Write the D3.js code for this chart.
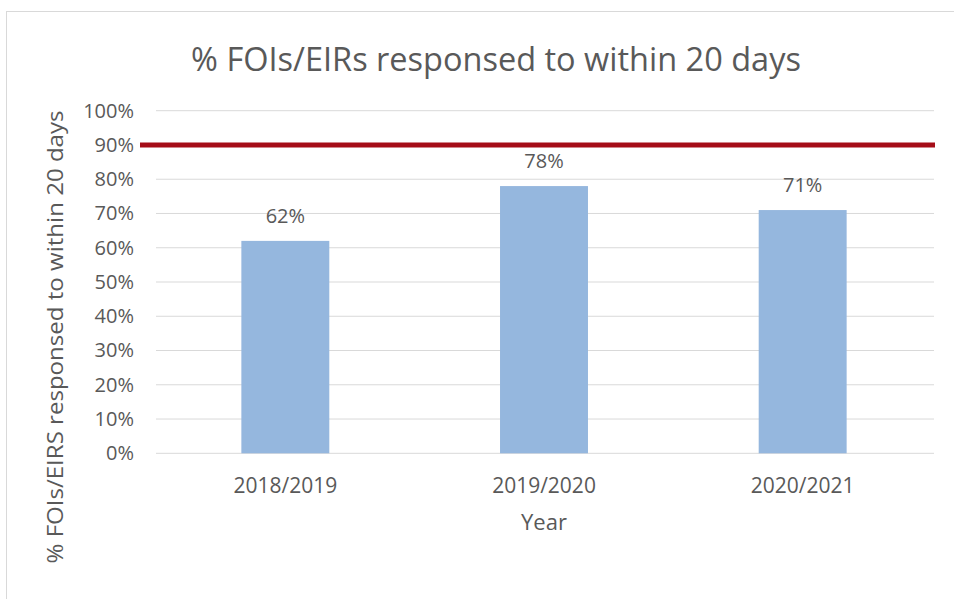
<!DOCTYPE html>
<html>
<head>
<meta charset="utf-8">
<script src="https://cdn.jsdelivr.net/npm/d3@7"></script>
<style>
  html, body { margin: 0; padding: 0; background: #fff; }
  svg { display: block; }
  text { font-family: "Open Sans", "DejaVu Sans", sans-serif; fill: #595959; }
</style>
</head>
<body>
<svg id="chart" width="954" height="599"></svg>
<script>
const categories = ["2018/2019", "2019/2020", "2020/2021"];
const values = [0.62, 0.78, 0.71];
const valueLabels = ["62%", "78%", "71%"];
const target = 0.90;
const yTicks = [0, 0.1, 0.2, 0.3, 0.4, 0.5, 0.6, 0.7, 0.8, 0.9, 1.0];
const titleText = "% FOIs/EIRs responsed to within 20 days";
const yTitle = "% FOIs/EIRS responsed to within 20 days";
const xTitle = "Year";

const svg = d3.select("#chart");
const W = 954, H = 599;
const plot = { left: 156, right: 932, top: 110.7, bottom: 453.3 };

// card border
svg.append("rect").attr("x", 6.5).attr("y", 11.5).attr("width", W + 10).attr("height", H + 10)
  .attr("fill", "#fff").attr("stroke", "#d9d9d9").attr("stroke-width", 1);

const x = d3.scaleBand().domain(categories).range([plot.left, plot.right])
  .paddingInner(0.66).paddingOuter(0.33);
const y = d3.scaleLinear().domain([0, 1]).range([plot.bottom, plot.top]);

// gridlines
svg.append("g").selectAll("line").data(yTicks).join("line")
  .attr("x1", plot.left).attr("x2", plot.right + 2)
  .attr("y1", d => y(d)).attr("y2", d => y(d))
  .attr("stroke", "#d9d9d9").attr("stroke-width", 1);

// y axis tick labels
const yAxis = d3.axisLeft(y).tickValues(yTicks).tickFormat(d3.format(".0%")).tickSize(0).tickPadding(0);
const gy = svg.append("g").attr("transform", `translate(134,0)`).call(yAxis);
gy.select(".domain").remove();
gy.selectAll("text").attr("font-size", 20).attr("fill", "#595959")
  .style("font-family", '"Open Sans", sans-serif');

// bars
svg.append("g").selectAll("rect").data(values).join("rect")
  .attr("x", (d, i) => x(categories[i]))
  .attr("width", x.bandwidth())
  .attr("y", d => y(d))
  .attr("height", d => y(0) - y(d))
  .attr("fill", "#95b7de");

// data labels
svg.append("g").selectAll("text").data(values).join("text")
  .attr("x", (d, i) => x(categories[i]) + x.bandwidth() / 2)
  .attr("y", d => y(d) - 18)
  .attr("text-anchor", "middle")
  .attr("font-size", 20)
  .text((d, i) => valueLabels[i]);

// x axis labels
const xAxis = d3.axisBottom(x).tickSize(0).tickPadding(0);
const gx = svg.append("g").attr("transform", `translate(0,492.5)`).call(xAxis);
gx.select(".domain").remove();
gx.selectAll("text").attr("font-size", 21).attr("fill", "#595959")
  .attr("y", 0).attr("dy", 0)
  .style("font-family", '"Open Sans", sans-serif');

// target line
svg.append("line")
  .attr("x1", plot.left - 16).attr("x2", plot.right + 3)
  .attr("y1", y(target)).attr("y2", y(target))
  .attr("stroke", "#a50d18").attr("stroke-width", 5);

// title
svg.append("text").attr("x", 496).attr("y", 71).attr("text-anchor", "middle")
  .attr("font-size", 32.5).text(titleText);

// axis titles
svg.append("text").attr("x", 544).attr("y", 530).attr("text-anchor", "middle")
  .attr("font-size", 22).text(xTitle);
svg.append("text").attr("transform", "translate(63,337) rotate(-90)")
  .attr("text-anchor", "middle").attr("font-size", 22)
  .attr("textLength", 453).attr("lengthAdjust", "spacingAndGlyphs")
  .text(yTitle);
</script>
</body>
</html>
